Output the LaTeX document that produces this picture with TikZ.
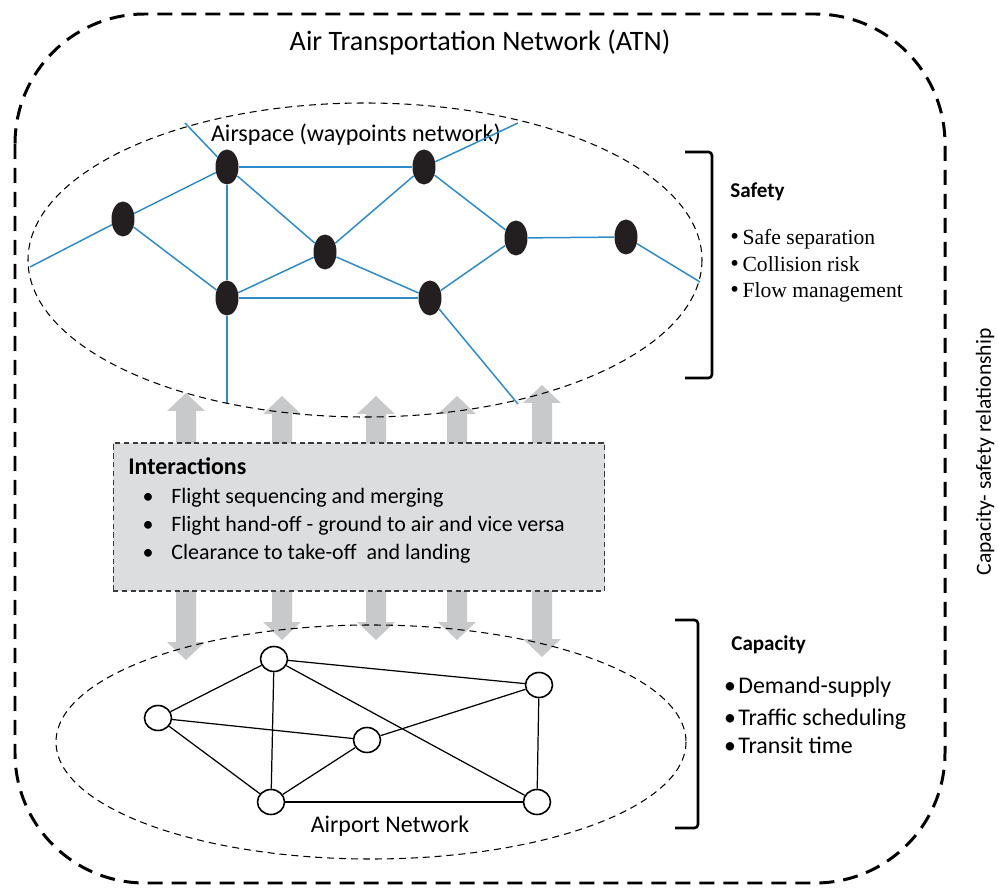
\documentclass[tikz,border=0pt]{standalone}
\usepackage{fontspec}
\setmainfont{Carlito}
\newfontfamily\timesf{Liberation Serif}
\usetikzlibrary{calc,shapes.geometric}
\definecolor{wblue}{HTML}{2E8BCB}
\definecolor{wpblack}{HTML}{231F20}
\definecolor{arrowgray}{HTML}{C8C9CB}
\definecolor{boxgray}{HTML}{DCDDDE}
\definecolor{boxline}{HTML}{3A3A3A}
\newcommand\grayarrow[2]{%
  \fill[arrowgray] (#1) -- ++(19,18) -- ++(-9,0) -- ($(#2)+(10,-18)$) -- ++(9,0) -- (#2)
   -- ++(-19,-18) -- ++(9,0) -- ($(#1)+(-10,18)$) -- ++(-9,0) -- cycle;}
\newcommand\fs[1]{\fontsize{#1}{#1}\selectfont}
\begin{document}
\begin{tikzpicture}[x=0.02cm,y=-0.02cm,
  outerdash/.style={line width=1.7pt,dash pattern=on 0.3cm off 0.18cm,rounded corners=2.6cm},
  ovaldash/.style={line width=0.6pt,dash pattern=on 4pt off 2.8pt},
  wp/.style={ellipse,fill=wpblack,draw=none,minimum width=0.46cm,minimum height=0.70cm,inner sep=0pt},
  ap/.style={ellipse,draw=black,fill=white,line width=0.9pt,minimum width=0.54cm,minimum height=0.50cm,inner sep=0pt},
  blueline/.style={wblue,line width=0.85pt},
  apline/.style={black,line width=0.7pt},
  bracket/.style={line width=1.5pt,rounded corners=2pt},
  txt/.style={inner sep=0pt,anchor=base west},
  ctxt/.style={inner sep=0pt,anchor=base},
  interbox/.style={fill=boxgray,draw=boxline,line width=0.6pt,dash pattern=on 3pt off 2pt,minimum width=9.84cm,minimum height=2.96cm,inner sep=0pt}
]
\useasboundingbox (0,0) rectangle (998,888);

% outer frame
\draw[outerdash] (15,14) rectangle (945,883);
\node[ctxt] (title) at (480,51) {\fs{16}Air Transportation Network (ATN)};

% gray interaction arrows
\coordinate (u1) at (186,393); \coordinate (d1) at (186,660);
\coordinate (u2) at (282,396); \coordinate (d2) at (282,640);
\coordinate (u3) at (376,396); \coordinate (d3) at (376,640);
\coordinate (u4) at (457,396); \coordinate (d4) at (457,640);
\coordinate (u5) at (542,385); \coordinate (d5) at (542,657);
\grayarrow{u1}{d1}
\grayarrow{u2}{d2}
\grayarrow{u3}{d3}
\grayarrow{u4}{d4}
\grayarrow{u5}{d5}

% airspace
\node[ctxt] (aslabel) at (356,142) {\fs{13.7}Airspace (waypoints network)};
\node[wp] (A) at (123,219) {};
\node[wp] (B) at (227,167) {};
\node[wp] (C) at (424,167) {};
\node[wp] (D) at (325,252) {};
\node[wp] (E) at (516,238) {};
\node[wp] (F) at (626,237) {};
\node[wp] (G) at (227,298) {};
\node[wp] (H) at (430,298) {};
\coordinate (a0) at (30,267);
\coordinate (b0) at (185,123);
\coordinate (c0) at (518,123);
\coordinate (f0) at (700,282);
\coordinate (g0) at (227,404);
\coordinate (h0) at (518,404);
\draw[blueline] (a0) -- (A);
\draw[blueline] (A) -- (B);
\draw[blueline] (A) -- (G);
\draw[blueline] (b0) -- (B);
\draw[blueline] (B) -- (C);
\draw[blueline] (B) -- (G);
\draw[blueline] (B) -- (D);
\draw[blueline] (C) -- (c0);
\draw[blueline] (C) -- (D);
\draw[blueline] (C) -- (E);
\draw[blueline] (D) -- (G);
\draw[blueline] (D) -- (H);
\draw[blueline] (G) -- (H);
\draw[blueline] (G) -- (g0);
\draw[blueline] (H) -- (E);
\draw[blueline] (H) -- (h0);
\draw[blueline] (E) -- (F);
\draw[blueline] (F) -- (f0);
\draw[ovaldash] (365,260) ellipse [x radius=337, y radius=157];

% interactions box
\node[interbox] (inter) at (359,517) {};
\node[txt] (ititle) at (128,475) {\fs{13.6}\bfseries Interactions};
\node[ctxt] at (148,504) {\fs{12.5}\textbullet};
\node[ctxt] at (148,532) {\fs{12.5}\textbullet};
\node[ctxt] at (148,560) {\fs{12.5}\textbullet};
\node[txt] (i1) at (171,504) {\fs{12.5}Flight sequencing and merging};
\node[txt] (i2) at (171,532) {\fs{12.5}Flight hand-off - ground to air and vice versa};
\node[txt] (i3) at (171,560) {\fs{12.5}Clearance to take-off\ \ and landing};

% airport network
\node[ap] (P1) at (274,659) {};
\node[ap] (P2) at (158,718) {};
\node[ap] (P3) at (367,740) {};
\node[ap] (P4) at (539,685) {};
\node[ap] (P5) at (271,802) {};
\node[ap] (P6) at (537,802) {};
\draw[apline] (P1) -- (P2);
\draw[apline] (P1) -- (P5);
\draw[apline] (P1) -- (P4);
\draw[apline] (P1) -- (P6);
\draw[apline] (P2) -- (P3);
\draw[apline] (P2) -- (P5);
\draw[apline] (P3) -- (P5);
\draw[apline] (P3) -- (P4);
\draw[apline] (P4) -- (P6);
\draw[apline] (P5) -- (P6);
\draw[ovaldash] (371,742) ellipse [x radius=315, y radius=117];
\node[ctxt] (aplabel) at (390,832) {\fs{13.6}Airport Network};

% safety bracket
\draw[bracket] (685,152) -- (712,152) -- (712,378) -- (685,378);
\node[txt] (safety) at (730,198) {\fs{12}\bfseries Safety};
\node[txt] (s1) at (730,245) {\timesf\fs{12.3}{\fs{14}\textbullet}\,Safe separation};
\node[txt] (s2) at (730,272) {\timesf\fs{12.3}{\fs{14}\textbullet}\,Collision risk};
\node[txt] (s3) at (730,298) {\timesf\fs{12.3}{\fs{14}\textbullet}\,Flow management};

% capacity bracket
\draw[bracket] (675,620) -- (698,620) -- (698,828) -- (675,828);
\node[txt] (capacity) at (731,650) {\fs{12}\bfseries Capacity};
\node[ctxt] at (730,693) {\fs{13.6}\textbullet};
\node[ctxt] at (730,725) {\fs{13.6}\textbullet};
\node[ctxt] at (730,753) {\fs{13.6}\textbullet};
\node[txt] (c1) at (738,693) {\fs{13.6}Demand-supply};
\node[txt] (c2) at (738,725) {\fs{13.6}Traffic scheduling};
\node[txt] (c3) at (738,753) {\fs{13.6}Transit time};

% vertical label
\node[inner sep=0pt,rotate=90] (rel) at (985,452) {\fs{12.3}Capacity- safety relationship};
\end{tikzpicture}
\end{document}
